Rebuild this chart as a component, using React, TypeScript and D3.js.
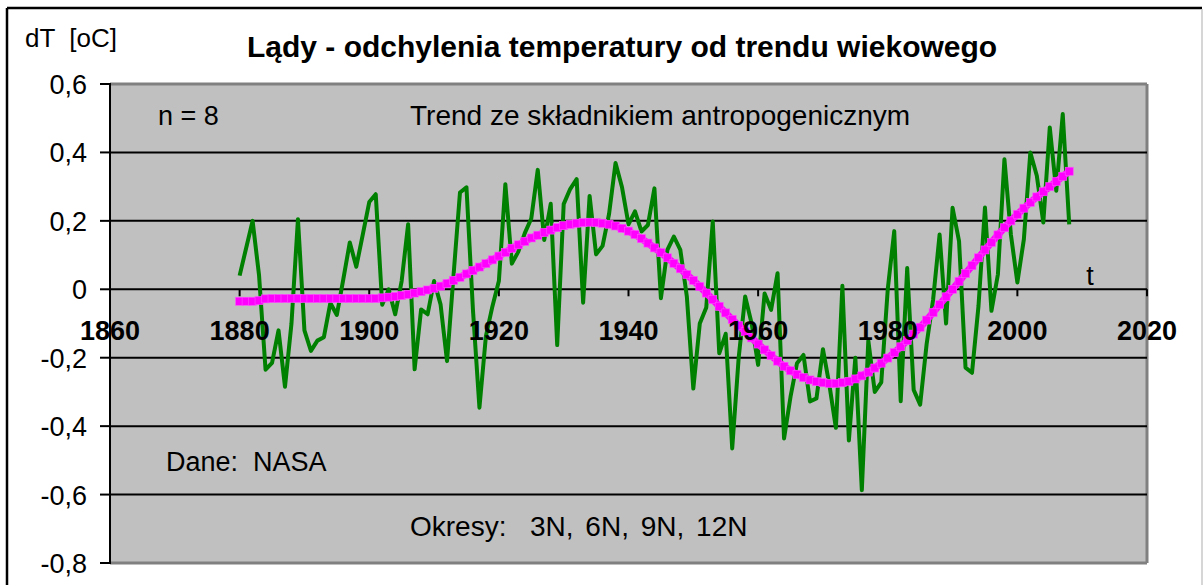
import * as d3 from "d3";

// Land temperature deviations from the secular trend (NASA), 1880-2008
const startYear = 1880;
const anomaly = [
  0.04, 0.12, 0.2, 0.04, -0.235, -0.215, -0.12, -0.285, -0.1, 0.205,
  -0.12, -0.18, -0.15, -0.14, -0.04, -0.075, 0.03, 0.137, 0.066, 0.16,
  0.255, 0.278, -0.045, 0.0, -0.073, 0.024, 0.19, -0.234, -0.059, -0.073,
  0.024, -0.044, -0.21, 0.04, 0.283, 0.298, -0.06, -0.346, -0.137, -0.05,
  0.024, 0.307, 0.075, 0.11, 0.164, 0.207, 0.349, 0.144, 0.25, -0.163,
  0.249, 0.293, 0.322, -0.039, 0.273, 0.102, 0.127, 0.22, 0.369, 0.298,
  0.19, 0.228, 0.169, 0.188, 0.295, -0.026, 0.115, 0.154, 0.115, -0.021,
  -0.29, -0.1, -0.053, 0.198, -0.187, -0.13, -0.465, -0.2, -0.021, -0.1,
  -0.221, -0.012, -0.06, 0.047, -0.436, -0.314, -0.216, -0.192, -0.328, -0.319,
  -0.175, -0.28, -0.405, 0.01, -0.442, -0.2, -0.587, -0.15, -0.3, -0.272,
  0.0, 0.17, -0.327, 0.062, -0.294, -0.337, -0.16, -0.03, 0.16, -0.1,
  0.238, 0.141, -0.229, -0.244, -0.049, 0.239, -0.063, 0.044, 0.38, 0.16,
  0.02, 0.146, 0.4, 0.332, 0.195, 0.473, 0.288, 0.512, 0.19,
];

// Trend with anthropogenic component (n = 8)
const trend = [
  -0.035, -0.035, -0.035, -0.033, -0.028, -0.027, -0.027, -0.027, -0.027, -0.027,
  -0.027, -0.027, -0.027, -0.027, -0.027, -0.027, -0.027, -0.027, -0.027, -0.027,
  -0.027, -0.027, -0.025, -0.023, -0.021, -0.018, -0.015, -0.011, -0.007, -0.002,
  0.003, 0.009, 0.017, 0.026, 0.035, 0.045, 0.055, 0.065, 0.075, 0.086,
  0.097, 0.108, 0.12, 0.13, 0.14, 0.15, 0.158, 0.166, 0.173, 0.18,
  0.186, 0.19, 0.193, 0.195, 0.196, 0.195, 0.193, 0.19, 0.185, 0.178,
  0.17, 0.16, 0.148, 0.135, 0.121, 0.107, 0.092, 0.076, 0.06, 0.043,
  0.026, 0.008, -0.011, -0.03, -0.05, -0.069, -0.088, -0.106, -0.124, -0.142,
  -0.16, -0.177, -0.194, -0.21, -0.225, -0.238, -0.249, -0.258, -0.265, -0.27,
  -0.273, -0.275, -0.275, -0.273, -0.269, -0.262, -0.253, -0.242, -0.23, -0.216,
  -0.201, -0.185, -0.168, -0.15, -0.131, -0.111, -0.09, -0.068, -0.045, -0.022,
  0.0, 0.023, 0.046, 0.069, 0.092, 0.115, 0.137, 0.159, 0.18, 0.2,
  0.219, 0.237, 0.254, 0.27, 0.285, 0.3, 0.315, 0.33, 0.345,
];

const xTicks = [1860, 1880, 1900, 1920, 1940, 1960, 1980, 2000, 2020];
const yTicks = [0.6, 0.4, 0.2, 0, -0.2, -0.4, -0.6, -0.8];
const yTickLabels = ["0,6", "0,4", "0,2", "0", "-0,2", "-0,4", "-0,6", "-0,8"];
const gridValues = [0.4, 0.2, 0, -0.2, -0.4, -0.6];

const title = "Lądy - odchylenia temperatury od trendu wiekowego";
const yTitle = "dT  [oC]";

const App = () => {
  const width = 1204;
  const height = 585;
  const plot = { left: 110, right: 1147, top: 84, bottom: 563 };
  const font = "Arial, 'Liberation Sans', sans-serif";
  const pre = { whiteSpace: "pre" as const };

  const x = d3.scaleLinear().domain([1860, 2020]).range([plot.left, plot.right]);
  const y = d3.scaleLinear().domain([-0.8, 0.6]).range([plot.bottom, plot.top]);

  const line = d3
    .line<number>()
    .x((_, i) => x(startYear + i))
    .y((d) => y(d));

  return (
    <svg
      width={width}
      height={height}
      style={{ position: "absolute", left: 0, top: 0, display: "block", background: "#fff" }}
      fontFamily={font}
    >
      {/* outer chart frame */}
      <line x1={7} x2={1202} y1={8} y2={8} stroke="#000" strokeWidth={2.5} />
      <line x1={7} x2={7} y1={8} y2={590} stroke="#000" strokeWidth={2.5} />
      <line x1={1202} x2={1202} y1={9} y2={590} stroke="#c8c8c8" strokeWidth={1.5} />

      {/* plot area */}
      <rect
        x={plot.left}
        y={plot.top}
        width={plot.right - plot.left}
        height={plot.bottom - plot.top}
        fill="#c0c0c0"
      />
      <line x1={plot.left} x2={plot.right} y1={plot.top} y2={plot.top} stroke="#808080" strokeWidth={3} />
      <line x1={plot.right} x2={plot.right} y1={plot.top} y2={plot.bottom} stroke="#808080" strokeWidth={3} />
      <line x1={plot.left} x2={plot.right} y1={plot.bottom} y2={plot.bottom} stroke="#808080" strokeWidth={3} />

      {gridValues.map((v) => (
        <line key={v} x1={plot.left} x2={plot.right} y1={y(v)} y2={y(v)} stroke="#000" strokeWidth={2} />
      ))}

      {/* x axis ticks on the zero line */}
      {xTicks.map((t) => (
        <line key={t} x1={x(t)} x2={x(t)} y1={y(0)} y2={y(0) + 7} stroke="#000" strokeWidth={2} />
      ))}

      {/* y axis */}
      <line x1={plot.left} x2={plot.left} y1={plot.top - 1} y2={plot.bottom + 1} stroke="#000" strokeWidth={2} />
      {yTicks.map((t, i) => (
        <g key={t}>
          <line x1={plot.left - 10} x2={plot.left} y1={y(t)} y2={y(t)} stroke="#000" strokeWidth={2} />
          <text x={87} y={y(t) + 10} textAnchor="end" fontSize={27} fill="#000">
            {yTickLabels[i]}
          </text>
        </g>
      ))}

      {/* data */}
      <path d={line(anomaly) ?? ""} fill="none" stroke="#008000" strokeWidth={4} strokeLinejoin="round" />
      <path d={line(trend) ?? ""} fill="none" stroke="#ff00ff" strokeWidth={7} />
      {trend.map((d, i) => (
        <rect
          key={i}
          x={x(startYear + i) - 4}
          y={y(d) - 4}
          width={8}
          height={8}
          fill="#ff00ff"
          stroke="#ff4dff"
          strokeWidth={0.6}
        />
      ))}

      {/* x tick labels */}
      {xTicks.map((t) => (
        <text key={t} x={x(t)} y={340} textAnchor="middle" fontSize={27} fontWeight="bold" fill="#000">
          {t}
        </text>
      ))}

      {/* titles and notes */}
      <text x={25} y={47} fontSize={26} fill="#000" style={pre}>
        {yTitle}
      </text>
      <text x={247} y={57} fontSize={30} fontWeight="bold" fill="#000">
        {title}
      </text>
      <text x={158} y={125} fontSize={27} fill="#000" style={pre}>n = 8</text>
      <text x={410} y={125} fontSize={28} fill="#000">
        Trend ze składnikiem antropogenicznym
      </text>
      <text x={166} y={471} fontSize={27} fill="#000" style={pre}>Dane:  NASA</text>
      <text x={410} y={536} fontSize={28} fill="#000" style={pre} wordSpacing={4}>
        Okresy:  3N, 6N, 9N, 12N
      </text>
      <text x={1090} y={285} textAnchor="middle" fontSize={27} fill="#000">t</text>
    </svg>
  );
};

export default App;
